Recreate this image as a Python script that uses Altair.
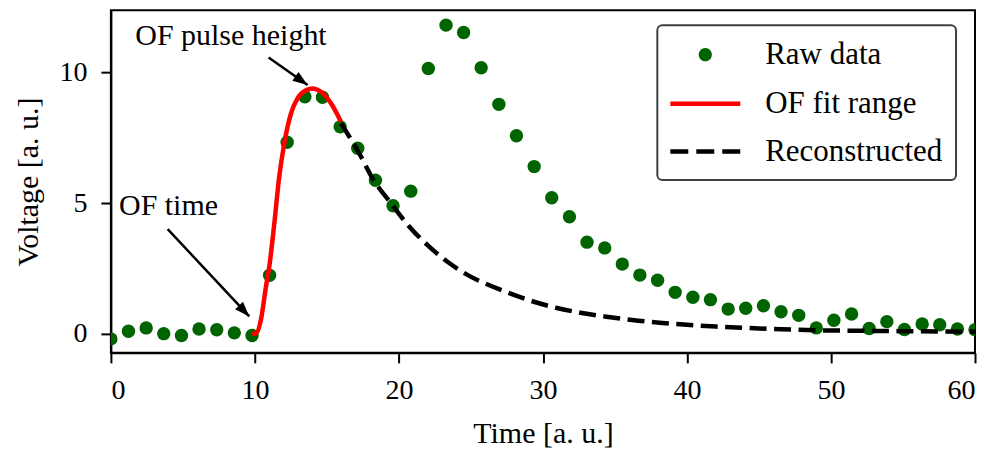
import altair as alt
import pandas as pd

FONT = "Liberation Serif, DejaVu Serif, serif"

# ---- data ----
raw_t = [0.0, 1.22, 2.45, 3.67, 4.9, 6.12, 7.35, 8.57, 9.8, 11.02, 12.24, 13.47,
         14.69, 15.92, 17.14, 18.37, 19.59, 20.82, 22.04, 23.27, 24.49, 25.71,
         26.94, 28.16, 29.39, 30.61, 31.84, 33.06, 34.29, 35.51, 36.73, 37.96,
         39.18, 40.41, 41.63, 42.86, 44.08, 45.31, 46.53, 47.76, 48.98, 50.2,
         51.43, 52.65, 53.88, 55.1, 56.33, 57.55, 58.78, 60.0]
raw_v = [-0.19, 0.10, 0.23, 0.01, -0.06, 0.19, 0.16, 0.04, -0.06, 2.24, 7.33, 9.07,
         9.05, 7.92, 7.10, 5.88, 4.90, 5.46, 10.15, 11.81, 11.53, 10.18,
         8.78, 7.58, 6.40, 5.21, 4.48, 3.51, 3.29, 2.67, 2.25, 2.05,
         1.59, 1.40, 1.31, 0.95, 0.98, 1.08, 0.85, 0.71, 0.23, 0.52,
         0.76, 0.21, 0.47, 0.17, 0.38, 0.35, 0.19, 0.16]

fit_t = [9.8, 10.1, 10.42, 10.77, 11.0, 11.35, 11.69, 12.04, 12.51, 12.96, 13.55,
         14.0, 14.59, 15.28, 15.98]
fit_v = [0.0, 0.03, 0.55, 1.82, 2.58, 4.24, 6.02, 7.29, 8.44, 9.01, 9.32,
         9.39, 9.26, 8.82, 8.11]

rec_t = [15.98, 17.24, 18.17, 19.44, 20.71, 22.1, 23.49, 24.88, 26.2, 27.66,
         29.2, 30.9, 32.7, 34.4, 36.2, 38.1, 40.0, 42.0, 44.0, 46.5, 49.0,
         52.0, 56.0, 60.0]
rec_v = [8.05, 6.91, 5.95, 5.0, 4.11, 3.34, 2.71, 2.22, 1.88, 1.56,
         1.26, 1.0, 0.8, 0.66, 0.53, 0.43, 0.35, 0.28, 0.23, 0.18, 0.14,
         0.12, 0.1, 0.08]

series_names = ["Raw data", "OF fit range", "Reconstructed"]
series_colors = ["darkgreen", "red", "black"]

x_ticks = [0, 10, 20, 30, 40, 50, 60]
y_ticks = [0, 5, 10]

ann_text = ["OF pulse height", "OF time"]
ann_text_t = [8.34, 4.0]
ann_text_v = [11.04, 4.55]
arrow_t0 = [10.95, 3.94]
arrow_v0 = [10.57, 4.01]
arrow_t1 = [13.66, 9.61]
arrow_v1 = [9.52, 0.67]
arrow_angle = [125.4, 136.9]

# ---- tables ----
raw_df = pd.DataFrame({"t": raw_t, "v": raw_v, "series": "Raw data"})
fit_df = pd.DataFrame({"t": fit_t, "v": fit_v})
rec_df = pd.DataFrame({"t": rec_t, "v": rec_v})
ann_df = pd.DataFrame({"label": ann_text, "t": ann_text_t, "v": ann_text_v})
arr_df = pd.DataFrame({"t0": arrow_t0, "v0": arrow_v0, "t1": arrow_t1,
                       "v1": arrow_v1, "angle": arrow_angle})

xs = alt.Scale(domain=[0, 60], nice=False, zero=False)
ys = alt.Scale(domain=[-0.725, 12.38], nice=False, zero=False)

x_axis = alt.Axis(values=x_ticks, title="Time [a. u.]", grid=False,
                  titleBaseline="alphabetic", titleY=90, labelPadding=14)
y_axis = alt.Axis(values=y_ticks, title="Voltage [a. u.]", grid=False,
                  titleBaseline="alphabetic", titleX=-73, labelPadding=14)

circle_path = "M-0.47,0A0.47,0.47,0,1,0,0.47,0A0.47,0.47,0,1,0,-0.47,0Z"
line_path = "M-2.5,0L2.5,0"

legend = alt.Legend(
    title=None, orient="none", legendX=547, legendY=15,
    symbolSize=784, symbolStrokeWidth=4.5, symbolOffset=18.5, labelOffset=43.5,
    symbolOpacity=1, labelLimit=400,
    symbolType={"expr": f"datum.value === 'Raw data' ? '{circle_path}' : '{line_path}'"},
    symbolStrokeColor={"expr": "datum.value === 'Raw data' ? 'transparent' : (datum.value === 'OF fit range' ? 'red' : 'black')"},
    symbolDash={"expr": "datum.value === 'Reconstructed' ? [18, 8] : [1, 0]"},
    labelFont=FONT, labelFontSize=31, labelColor="black",
    padding=13, rowPadding=16,
)

points = alt.Chart(raw_df).mark_circle(size=180, opacity=1, clip=True).encode(
    x=alt.X("t:Q", scale=xs, axis=x_axis),
    y=alt.Y("v:Q", scale=ys, axis=y_axis),
    color=alt.Color("series:N",
                    scale=alt.Scale(domain=series_names, range=series_colors),
                    legend=legend),
)

fit_line = alt.Chart(fit_df).mark_line(
    color="red", strokeWidth=4.5, interpolate="monotone", clip=True
).encode(x=alt.X("t:Q", scale=xs), y=alt.Y("v:Q", scale=ys))

rec_line = alt.Chart(rec_df).mark_line(
    color="black", strokeWidth=4.5, strokeDash=[17, 7.5], strokeCap="butt",
    interpolate="monotone", clip=True
).encode(x=alt.X("t:Q", scale=xs), y=alt.Y("v:Q", scale=ys))

arrow_lines = alt.Chart(arr_df).mark_rule(color="black", strokeWidth=2.5).encode(
    x=alt.X("t0:Q", scale=xs), y=alt.Y("v0:Q", scale=ys),
    x2="t1:Q", y2="v1:Q",
)

arrow_heads = alt.Chart(arr_df).mark_point(
    shape="M0,0L-0.36,1L0.36,1Z", size=900, filled=True, color="black", opacity=1
).encode(
    x=alt.X("t1:Q", scale=xs), y=alt.Y("v1:Q", scale=ys),
    angle=alt.Angle("angle:Q", scale=None),
)

texts = alt.Chart(ann_df).mark_text(
    font=FONT, fontSize=30, align="center", baseline="alphabetic", color="black"
).encode(x=alt.X("t:Q", scale=xs), y=alt.Y("v:Q", scale=ys), text="label:N")

chart = alt.layer(points, fit_line, rec_line, arrow_lines, arrow_heads, texts).properties(
    width=865, height=343,
    autosize=alt.AutoSizeParams(type="none"),
    padding={"left": 103, "top": 2, "right": 10, "bottom": 97},
).configure_view(
    stroke="black", strokeWidth=2
).configure_axis(
    domainColor="black", domainWidth=2, tickColor="black", tickWidth=2,
    tickSize=10, labelFont=FONT, labelFontSize=28, labelColor="black",
    titleFont=FONT, titleFontSize=30, titleColor="black",
    titleFontWeight="normal",
).configure_legend(
    fillColor="white", strokeColor="#404040", strokeWidth=2, cornerRadius=5
).configure_text(font=FONT)

chart.save("out.html", embed_options={"renderer": "svg", "actions": False})
